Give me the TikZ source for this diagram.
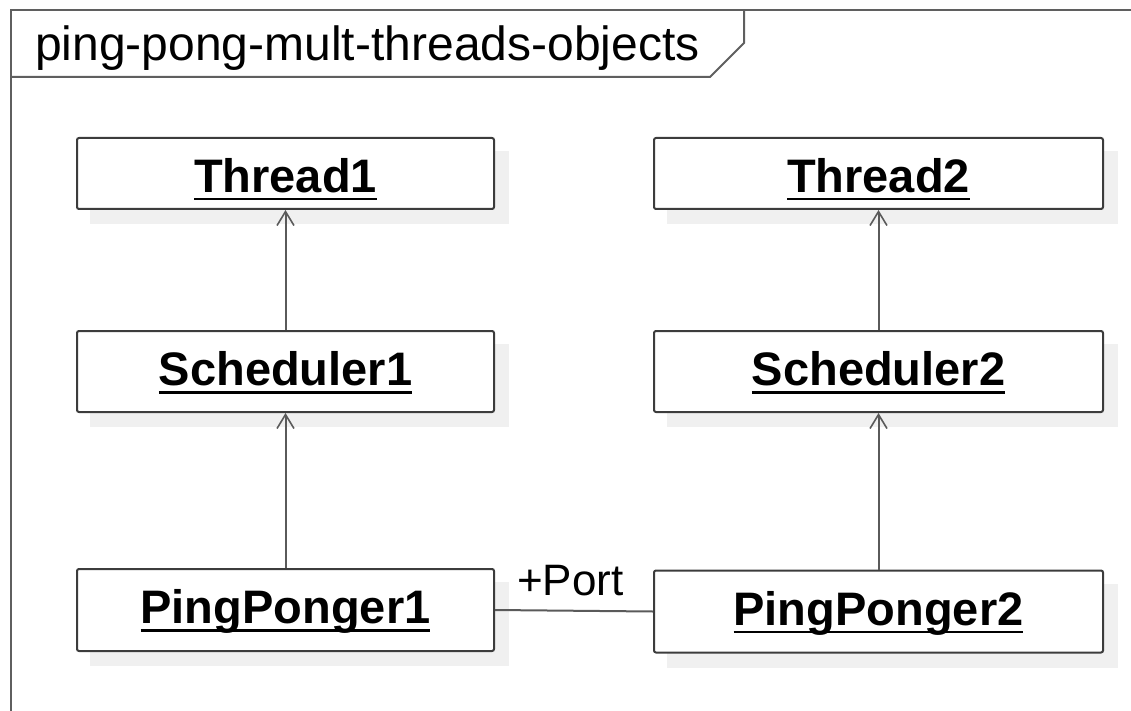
\documentclass[tikz,border=0pt]{standalone}
\usepackage{fontspec}
\setmainfont{Liberation Sans}
\usetikzlibrary{arrows.meta,backgrounds}
\definecolor{boxline}{HTML}{3C3C3C}
\definecolor{connline}{HTML}{5A5A5A}
\definecolor{frameline}{HTML}{5F5F5F}
\definecolor{shadowgray}{HTML}{F0F0F0}
\newcommand\ulbox[1]{\setbox0\hbox{#1}\rlap{\rule[-8pt]{\wd0}{2.2pt}}\box0}
\begin{document}
\begin{tikzpicture}[x=1pt,y=-1pt,
  obj/.style={draw=boxline, line width=2pt, rounded corners=2pt, fill=white,
    inner sep=0pt, font=\fontsize{47}{50}\selectfont\bfseries, text height=54.5pt},
  objL/.style={obj, minimum width=417pt},
  objR/.style={obj, minimum width=449pt},
  conn/.style={draw=connline, line width=2pt},
  dep/.style={conn, -{Straight Barb[length=14pt,width=17pt,line width=1.6pt]}},
  shadowbox/.style={fill=shadowgray},
  lbl/.style={inner sep=0pt, font=\fontsize{44}{48}\selectfont},
  framestyle/.style={draw=frameline, line width=2pt}]
\useasboundingbox (0,0) rectangle (1131,711);
% frame
\coordinate (fTL) at (11,10);
\coordinate (fTR) at (1131,10);
\coordinate (fBL) at (11,711);
\coordinate (tabA) at (744,10);
\coordinate (tabB) at (744,43);
\coordinate (tabC) at (710,77);
\coordinate (tabD) at (11,77);
\draw[framestyle] (fBL) -- (fTL) -- (fTR);
\draw[framestyle] (tabA) -- (tabB) -- (tabC) -- (tabD);
\node[lbl, font=\fontsize{48}{52}\selectfont, anchor=base west] (title) at (35,61) {ping-pong-mult-threads-objects};
% objects
\node[objL, text depth=16.5pt] (t1) at (285.5,173.5) {\ulbox{Thread1}};
\node[objL, text depth=26.5pt] (s1) at (285.5,371.5) {\ulbox{Scheduler1}};
\node[objL, text depth=27.5pt] (p1) at (285.5,610) {\ulbox{PingPonger1}};
\node[objR, text depth=16.5pt] (t2) at (878.5,173.5) {\ulbox{Thread2}};
\node[objR, text depth=26.5pt] (s2) at (878.5,371.5) {\ulbox{Scheduler2}};
\node[objR, text depth=27.5pt] (p2) at (878.5,611.5) {\ulbox{PingPonger2}};
\begin{scope}[on background layer]
\foreach \n in {t1,s1,p1,t2,s2,p2}
  \fill[shadowbox] ([shift={(14,14)}]\n.north west) rectangle ([shift={(14,14)}]\n.south east);
\end{scope}
% connectors
\draw[dep] (s1.north) -- (t1.south);
\draw[dep] (p1.north) -- (s1.south);
\draw[dep] (s2.north) -- (t2.south);
\draw[dep] (p2.north) -- (s2.south);
\draw[conn] (p1.east) -- (p2.west);
\node[lbl, anchor=base west] (port) at (517,595) {+Port};
\end{tikzpicture}
\end{document}
